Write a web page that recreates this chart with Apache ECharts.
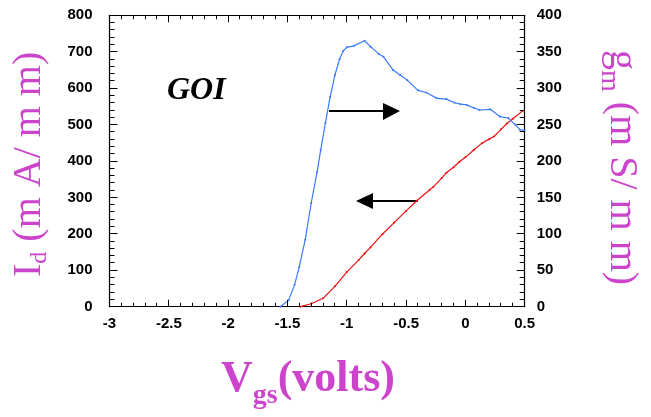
<!DOCTYPE html>
<html><head><meta charset="utf-8">
<script src="https://cdn.jsdelivr.net/npm/echarts@6/dist/echarts.min.js"></script>
<style>html,body{margin:0;padding:0;background:#fff}#c{width:651px;height:417px}</style>
</head><body><div id="c"></div>
<script>
// ---- data ----
const xTicks = [-3, -2.5, -2, -1.5, -1, -0.5, 0, 0.5];
const idTicks = [0, 100, 200, 300, 400, 500, 600, 700, 800];
const gmTicks = [0, 50, 100, 150, 200, 250, 300, 350, 400];

const vgsId = [-1.39, -1.3, -1.2, -1.1, -1.0, -0.9, -0.85, -0.8, -0.7, -0.6, -0.5, -0.41, -0.3, -0.27, -0.2, -0.16, -0.1, -0.05, 0, 0.07, 0.14, 0.2, 0.24, 0.3, 0.35, 0.4, 0.48];
const idVals = [0, 8, 23, 56, 95, 128, 146, 163, 199, 231, 263, 291, 321, 329, 353, 368, 383, 398, 410, 430, 449, 460, 467, 487, 503, 516, 537];

const vgsGm = [-1.56, -1.49, -1.44, -1.40, -1.35, -1.30, -1.25, -1.22, -1.18, -1.14, -1.10, -1.06, -1.03, -1.0, -0.94, -0.85, -0.80, -0.73, -0.69, -0.61, -0.55, -0.49, -0.40, -0.33, -0.24, -0.16, -0.09, -0.04, 0.01, 0.07, 0.12, 0.21, 0.29, 0.36, 0.42, 0.46, 0.5];
const gmVals = [0, 9, 30, 55, 92, 142, 185, 215, 252, 288, 318, 340, 351, 356, 358, 365, 357, 347, 343, 325, 318, 311, 297, 294, 286, 285, 280, 278, 277, 273, 270, 271, 261, 259, 250, 243, 242];

// ---- styling ----
const MAG = '#cc44cc';
const SERIF = '"Liberation Serif", "Times New Roman", serif';
const SANS = '"Liberation Sans", Arial, sans-serif';
const MINOR_DIV = 5;

const ctx = document.createElement('canvas').getContext('2d');
function measure(t, font) { ctx.font = font; return ctx.measureText(t).width; }
function textRow(pieces) {
  let x = 0; const out = [];
  pieces.forEach(p => {
    const font = (p.style || '') + ' ' + (p.weight || 'normal') + ' ' + p.size + 'px ' + SERIF;
    out.push({ type: 'text', x: x, y: p.dy || 0, silent: true,
      style: { text: p.t, font: font, fill: p.color || MAG, textAlign: 'left', textVerticalAlign: 'middle' } });
    x += measure(p.t, font);
  });
  return out;
}

// tick values: majors from the tick arrays, minors subdividing each interval
function tickList(majors, majorLen, minorLen) {
  const out = [];
  for (let i = 0; i < majors.length; i++) {
    out.push([majors[i], majorLen]);
    if (i < majors.length - 1) {
      const step = (majors[i + 1] - majors[i]) / MINOR_DIV;
      for (let k = 1; k < MINOR_DIV; k++) out.push([majors[i] + k * step, minorLen]);
    }
  }
  return out;
}

const idPairs = vgsId.map((v, i) => [v, idVals[i]]);
const gmPairs = vgsGm.map((v, i) => [v, gmVals[i]]);
const xMin = xTicks[0], xMax = xTicks[xTicks.length - 1];
const idMax = idTicks[idTicks.length - 1];

function axLine() { return { show: true, onZero: false, lineStyle: { color: '#000', width: 1.2 } }; }
function lab(margin) { return { margin: margin, color: '#000', fontFamily: SANS, fontWeight: 'bold', fontSize: 15 }; }

function annotations() {
  return [
    { type: 'text', x: 167, y: 91, silent: true,
      style: { text: 'GOI', font: 'italic bold 32px ' + SERIF, fill: '#000', textAlign: 'left', textVerticalAlign: 'middle' } },
    { type: 'line', silent: true, shape: { x1: 329, y1: 111, x2: 385, y2: 111 }, style: { stroke: '#000', lineWidth: 2.2 } },
    { type: 'polygon', silent: true, shape: { points: [[383, 103], [400, 111], [383, 120]] }, style: { fill: '#000' } },
    { type: 'line', silent: true, shape: { x1: 418, y1: 201, x2: 371, y2: 201 }, style: { stroke: '#000', lineWidth: 2.2 } },
    { type: 'polygon', silent: true, shape: { points: [[373, 193], [356, 201], [373, 209]] }, style: { fill: '#000' } },
    { type: 'group', x: 221, y: 380, silent: true,
      children: textRow([
        { t: 'V', size: 44, weight: 'bold' },
        { t: 'gs', size: 28, weight: 'bold', dy: 16 },
        { t: '(volts)', size: 44, weight: 'bold' }
      ]) },
    { type: 'group', x: 29, y: 277, rotation: Math.PI / 2, silent: true,
      children: textRow([
        { t: 'I', size: 40 },
        { t: 'd', size: 24, dy: 11 },
        { t: ' (m A/ m m)', size: 40 }
      ]) },
    { type: 'group', x: 621, y: 50, rotation: -Math.PI / 2, silent: true,
      children: textRow([
        { t: 'g', size: 40 },
        { t: 'm', size: 28, dy: 12 },
        { t: ' (m S/ m m)', size: 40 }
      ]) }
  ];
}

const chart = echarts.init(document.getElementById('c'), null, { renderer: 'canvas' });
chart.setOption({
  animation: false,
  grid: { left: 109.5, right: 126.3, top: 15.3, bottom: 110.3 },
  xAxis: [
    { type: 'value', position: 'bottom', min: xMin, max: xMax, interval: xTicks[1] - xTicks[0],
      axisLine: axLine(), axisTick: { show: false }, splitLine: { show: false }, axisLabel: lab(10) },
    { type: 'value', position: 'top', min: xMin, max: xMax, interval: xTicks[1] - xTicks[0],
      axisLine: axLine(), axisTick: { show: false }, splitLine: { show: false }, axisLabel: { show: false } }
  ],
  yAxis: [
    { type: 'value', position: 'left', min: idTicks[0], max: idMax, interval: idTicks[1] - idTicks[0],
      axisLine: axLine(), axisTick: { show: false }, splitLine: { show: false }, axisLabel: lab(17) },
    { type: 'value', position: 'right', min: gmTicks[0], max: gmTicks[gmTicks.length - 1], interval: gmTicks[1] - gmTicks[0],
      axisLine: axLine(), axisTick: { show: false }, splitLine: { show: false }, axisLabel: lab(12) }
  ],
  series: [
    { type: 'line', name: 'Id', xAxisIndex: 0, yAxisIndex: 0, data: idPairs, z: 3,
      lineStyle: { color: '#ee1111', width: 1.2 }, itemStyle: { color: '#ee1111' },
      symbol: 'circle', symbolSize: 2, showSymbol: true, silent: true },
    { type: 'line', name: 'gm', xAxisIndex: 0, yAxisIndex: 1, data: gmPairs, z: 3,
      lineStyle: { color: '#3a7bff', width: 1.2 }, itemStyle: { color: '#3a7bff' },
      symbol: 'circle', symbolSize: 2, showSymbol: true, silent: true }
  ],
  graphic: annotations()
});

// axis ticks (inside, on all four sides), positioned through the chart's own axes, drawn as crisp 1px rects
const ticks = [];
function rect(x, y, w, h) {
  ticks.push({ type: 'rect', silent: true, z: 100, shape: { x: x, y: y, width: w, height: h }, style: { fill: '#000' } });
}
function px(axisIdx, v) { return chart.convertToPixel({ xAxisIndex: 0, yAxisIndex: axisIdx }, v); }
try {
  const top = px(0, [xMin, idMax])[1], bottom = px(0, [xMin, idTicks[0]])[1];
  const left = px(0, [xMin, 0])[0], right = px(0, [xMax, 0])[0];
  tickList(xTicks, 7, 4).forEach(function (d) {
    const x = Math.round(px(0, [d[0], 0])[0] - 0.5);
    rect(x, bottom - d[1], 1, d[1]);
    rect(x, top, 1, d[1]);
  });
  tickList(idTicks, 8, 5).forEach(function (d) {
    const y = Math.round(px(0, [xMin, d[0]])[1] - 0.5);
    rect(left, y, d[1], 1);
  });
  tickList(gmTicks, 8, 5).forEach(function (d) {
    const y = Math.round(px(1, [xMax, d[0]])[1] - 0.5);
    rect(right - d[1], y, d[1], 1);
  });
} catch (e) { console.error(e); }
chart.setOption({ graphic: annotations().concat(ticks) }, { replaceMerge: ['graphic'] });
</script>
</body></html>
